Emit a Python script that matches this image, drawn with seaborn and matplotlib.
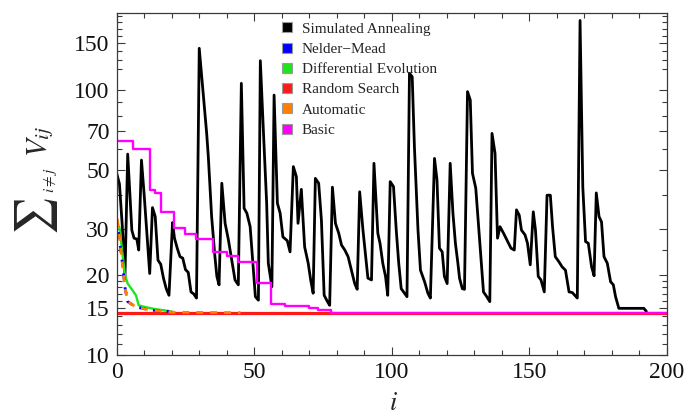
import matplotlib
matplotlib.use("Agg")
import matplotlib.pyplot as plt
import seaborn as sns
from matplotlib.lines import Line2D
from matplotlib.ticker import NullFormatter

# ---------------- data ----------------
# Simulated Annealing (iteration, objective)
sa_x = [0, 1, 2, 3, 4, 5.5, 6.3, 7.3, 8, 9,
        10, 12, 13, 14, 15, 16, 17, 18, 19, 20.3,
        21, 22, 23, 24, 25, 26, 27, 28, 29,
        30, 32.7, 33.3, 34.5, 35.7, 36.4, 37.2, 38.2, 39.4, 40.6,
        41.8, 43.0, 44.2, 45.3, 46.3, 47.3, 48.5, 49.7, 50.4, 51.5,
        52.2, 53.3, 54.5, 55.1, 56.4, 57.2, 58.4, 59.4, 60.4, 62.0,
        63.0, 64.2, 65.3, 65.9, 67.1, 68.3, 69.6, 70.5, 71.4, 72.2,
        73.4, 74.4, 75.4, 76.6, 77.4, 78.4, 79.5, 80.7, 81.7, 82.9,
        84.1, 85.3, 86.5, 87.4, 88.3, 89.5, 90.5, 91.3, 92.6, 93.5,
        94.9, 95.7, 96.7, 97.7, 98.5, 99.4, 100.6, 101.6, 102.5, 103.4,
        104.6, 105.5, 106.4, 107.4, 108.2, 109.5, 110.4, 111.9, 113.1, 114.0,
        115.5, 116.4, 117.3, 118.3, 119.1, 120.1, 121.2, 122.2, 123.1, 124.0,
        124.6, 125.6, 126.4, 127.5, 128.5, 129.3, 130.5, 131.7, 133.3, 134.5,
        135.6, 136.4, 137.5, 138.4, 139.3, 140.6, 141.8, 143.3, 144.5, 145.3,
        146.3, 147.1, 148.4, 149.3, 150.3, 151.4, 152.2, 153.2, 154.2, 155.4,
        156.4, 157.6, 158.4, 159.4, 160.7, 161.9, 163.1, 164.4, 165.6, 167.4,
        168.4, 169.4, 170.4, 171.4, 172.6, 173.5, 174.3, 175.3, 176.2, 177.1,
        178.3, 179.5, 180.5, 181.3, 182.5, 191.6, 192.5]
sa_y = [48.5, 44.2, 31, 19.8, 57.3, 29.6, 27.6, 27.4, 24.9, 54.4,
        40, 20.3, 36.0, 33.3, 22.8, 22.0, 19.5, 17.8, 16.8, 31.6,
        27.6, 25.3, 23.5, 23.2, 21.0, 20.5, 17.3, 17.0, 16.4,
        143.7, 68.6, 56.0, 33.3, 23.5, 19.8, 18.4, 44.5, 31.4, 27.2,
        22.8, 19.2, 18.4, 106, 35.8, 34.3, 30.5, 20.9, 16.6, 16.1,
        129, 70.6, 37.4, 22.2, 18.1, 95.7, 37.4, 34.3, 27.9, 27.0,
        24.5, 51.4, 47.1, 31.4, 42.2, 25.6, 22.2, 19.2, 17.1, 46.4,
        44.5, 32.3, 16.8, 15.9, 15.4, 43.0, 31.4, 28.8, 26.0, 24.9,
        23.5, 20.9, 18.6, 17.7, 41.3, 29.6, 23.5, 19.5, 19.2, 52.9,
        28.8, 26.4, 22.2, 19.8, 16.8, 45.1, 43.2, 29.6, 22.2, 17.8,
        17.1, 16.6, 115.6, 112.2, 61.1, 29.6, 20.9, 18.9, 17.1, 16.4,
        55.2, 45.8, 25.3, 24.5, 19.8, 18.6, 52.9, 34.3, 26.4, 22.2,
        19.5, 17.8, 17.7, 98.6, 91.7, 48.5, 42.6, 28.8, 17.3, 16.6,
        15.9, 68.6, 57.7, 27.6, 30.5, 28.8, 27.2, 25.3, 24.9, 35.3,
        33.7, 29.6, 28.4, 26.4, 21.9, 34.7, 29.6, 19.8, 19.2, 17.3,
        40.1, 40.1, 30.5, 23.5, 22.5, 21.5, 20.9, 17.3, 17.2, 16.4,
        183, 43, 26.8, 26.4, 21.5, 19.9, 40.9, 33.3, 31.8, 23.5,
        22.2, 18.9, 18.4, 16.6, 15.0, 15.0, 14.6]

# Nelder-Mead
nm_x = [0, 1, 2, 3, 4, 6, 8, 12, 16, 19]
nm_y = [32.8, 27.5, 22.5, 18.0, 15.9, 15.4, 15.1, 14.8, 14.65, 14.6]

# Differential Evolution
de_x = [0, 1, 3, 4, 6, 7, 8, 10, 14, 18, 20]
de_y = [31.4, 30.3, 20.0, 18.6, 17.4, 16.8, 15.4, 15.2, 14.9, 14.7, 14.6]

# Random Search
rs_x = [0, 200]
rs_y = [14.45, 14.45]

# Automatic
au_x = [0, 1, 2, 3, 4, 6, 8, 12, 16, 20, 45]
au_y = [34.3, 27.9, 22.5, 18.0, 15.9, 15.4, 15.1, 14.8, 14.65, 14.5, 14.45]

# Basic (best value so far, changes at these iterations)
basic_x = [0, 6, 12, 14, 16, 21, 25, 29, 35, 40, 44, 51, 56, 61, 70, 73, 78, 200]
basic_y = [64.4, 59.9, 42.0, 41.0, 34.5, 30.1, 28.6, 27.3, 24.5, 23.6, 22.5,
           18.7, 15.6, 15.3, 15.0, 14.8, 14.45, 14.45]

labels = ["Simulated Annealing", "Nelder\u2212Mead", "Differential Evolution",
          "Random Search", "Automatic", "Basic"]
colors = ["#000000", "#0000ff", "#1ee61e", "#ff1a1a", "#ff8000", "#ff00ff"]

y_major = [10, 15, 20, 30, 50, 70, 100, 150]
y_minor = [11, 12, 13, 14, 16, 17, 18, 19, 25, 40, 60, 80, 90,
           120, 130, 140, 160, 170, 180, 190]
x_major = [0, 50, 100, 150, 200]
x_minor = [v for v in range(0, 201, 10) if v % 50]

# ---------------- style ----------------
sns.set_style("ticks")
plt.rcParams['font.family'] = ['Liberation Serif', 'DejaVu Serif']
plt.rcParams['mathtext.fontset'] = 'stix'

W, H = 688, 420
fig = plt.figure(figsize=(W / 100, H / 100), dpi=100)
ax = fig.add_axes([116.7 / W, 1 - 355 / H, 550.3 / W, 342 / H])


def draw(x, y, **kw):
    sns.lineplot(x=x, y=y, ax=ax, sort=False, estimator=None, **kw)


draw(sa_x, sa_y, color=colors[0], linewidth=2.0)
draw(de_x, de_y, color=colors[2], linewidth=1.7)
draw(rs_x, rs_y, color=colors[3], linewidth=2.3)
draw(nm_x, nm_y, color=colors[1], linewidth=2.0, linestyle=(0, (2.5, 2.5)))
draw(au_x, au_y, color=colors[4], linewidth=2.0, linestyle=(2.5, (2.5, 2.5)))
draw(basic_x, basic_y, color=colors[5], linewidth=1.7, drawstyle="steps-post")

ax.set_yscale("log")
ax.set_xlim(0, 200)
ax.set_ylim(10, 195.3)

ax.set_yticks(y_major)
ax.set_yticklabels([str(v) for v in y_major])
ax.set_yticks(y_minor, minor=True)
ax.yaxis.set_minor_formatter(NullFormatter())
ax.set_xticks(x_major)
ax.set_xticklabels([str(v) for v in x_major])
ax.set_xticks(x_minor, minor=True)

frame_col = "#3a3a3a"
for s in ax.spines.values():
    s.set_color(frame_col)
    s.set_linewidth(0.9)
ax.tick_params(which="both", direction="in", top=True, right=True,
               color=frame_col, width=0.8)
ax.tick_params(which="major", length=6, labelsize=17, pad=5, labelcolor="#111111")
ax.tick_params(which="minor", length=3.5)
ax.set_xlabel("")
ax.set_ylabel("")

# axis labels
fig.text(34 / W, 1 - 213 / H, "\u2211", family="STIXGeneral", fontsize=30,
         rotation=90, ha="center", va="center", rotation_mode="anchor")
fig.text(50 / W, 1 - 180 / H, r"$i\neq j$", fontsize=11,
         rotation=90, ha="center", va="center", rotation_mode="anchor")
fig.text(41 / W, 1 - 141 / H, r"$V_{ij}$", fontsize=21,
         rotation=90, ha="center", va="center", rotation_mode="anchor")
fig.text(393 / W, 1 - 404 / H, r"$i$", fontsize=19, ha="center", va="center")

# legend
handles = [Line2D([], [], linestyle="none", marker="s", markersize=6.5,
                  markerfacecolor=c, markeredgecolor="#9a9a9a", markeredgewidth=0.8)
           for c in colors]
ax.legend(handles, labels, loc="upper left", bbox_to_anchor=(281 / W, 1 - 22 / H),
          bbox_transform=fig.transFigure, frameon=False, borderpad=0,
          borderaxespad=0, handlelength=0.8, handletextpad=0.55,
          labelspacing=0.43, fontsize=11)

fig.savefig("out.png", dpi=100)
